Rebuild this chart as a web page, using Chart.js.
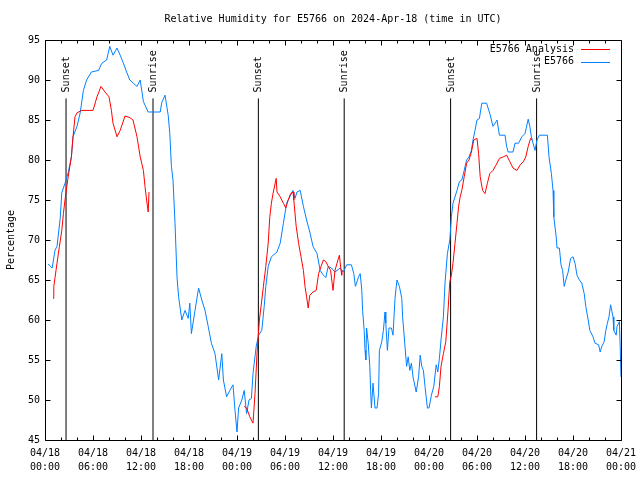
<!DOCTYPE html>
<html>
<head>
<meta charset="utf-8">
<title>Relative Humidity E5766</title>
<script src="https://cdn.jsdelivr.net/npm/chart.js@4/dist/chart.umd.min.js"></script>
<style>
  body { margin: 0; background: #fff; }
  canvas { display: block; }
</style>
</head>
<body>
<canvas id="rh" width="640" height="480"></canvas>
<script>

var TITLE = 'Relative Humidity for E5766 on 2024-Apr-18 (time in UTC)';
var FONT = "'DejaVu Sans Mono', 'Liberation Mono', monospace";

// hours since 04/18 00:00 UTC
var tickDays  = ['04/18','04/18','04/18','04/18','04/19','04/19','04/19','04/19','04/20','04/20','04/20','04/20','04/21'];
var tickTimes = ['00:00','06:00','12:00','18:00','00:00','06:00','12:00','18:00','00:00','06:00','12:00','18:00','00:00'];

var eventHours = [2.63, 13.5, 26.67, 37.4, 50.7, 61.45];
var eventNames = ['Sunset','Sunrise','Sunset','Sunrise','Sunset','Sunrise'];

// E5766 observations
var obsHours = [
  0.4, 0.9, 1.25, 1.5, 1.9, 2.1, 2.5, 2.9, 3.3, 3.5, 4.0, 4.4, 4.8, 5.2, 5.8, 6.7, 7.1, 7.7, 8.1, 8.5,
  9.0, 9.4, 9.8, 10.2, 10.6, 11.5, 11.9, 12.3, 12.9, 14.4, 14.6, 15.0, 15.4, 15.6, 15.8, 16.0, 16.25, 16.5, 16.7, 17.1,
  17.5, 17.9, 18.1, 18.3, 18.75, 19.2, 19.6, 20.0, 20.4, 20.8, 21.25, 21.7, 22.1, 22.3, 22.7, 23.1, 23.5, 23.75, 24.0, 24.2,
  24.6, 24.9, 25.2, 25.5, 25.8, 26.0, 26.4, 26.7, 27.1, 27.4, 27.6, 27.9, 28.3, 29.0, 29.4, 29.8, 30.2, 30.6, 31.0, 31.25,
  31.5, 31.9, 32.3, 32.7, 33.1, 33.5, 34.0, 34.4, 34.8, 35.1, 35.4, 35.8, 36.25, 36.9, 37.3, 37.7, 38.3, 38.6, 38.8, 39.2,
  39.4, 39.6, 39.7, 39.9, 40.0, 40.1, 40.2, 40.4, 40.6, 40.7, 40.8, 41.0, 41.25, 41.5, 41.7, 41.8, 42.1, 42.3, 42.5, 42.6,
  42.8, 43.0, 43.3, 43.5, 43.75, 44.0, 44.3, 44.6, 44.7, 45.0, 45.2, 45.4, 45.6, 45.8, 46.0, 46.4, 46.7, 46.9, 47.1, 47.3,
  47.5, 47.8, 48.0, 48.3, 48.6, 48.9, 49.1, 49.3, 49.5, 49.8, 50.0, 50.3, 50.6, 50.8, 51.0, 51.5, 51.8, 52.1, 52.4, 52.7,
  53.0, 53.3, 53.5, 53.75, 54.0, 54.3, 54.6, 55.2, 55.6, 56.0, 56.4, 56.5, 56.8, 57.5, 57.7, 57.9, 58.5, 58.75, 59.2, 59.6,
  60.0, 60.4, 60.6, 60.8, 61.0, 61.25, 61.5, 61.8, 62.8, 63.0, 63.3, 63.5, 63.6, 63.9, 64.0, 64.3, 64.5, 64.7, 64.9, 65.1,
  65.4, 65.7, 66.0, 66.25, 66.5, 66.8, 67.1, 67.4, 67.6, 67.9, 68.1, 68.5, 68.75, 69.2, 69.4, 69.6, 69.9, 70.1, 70.3, 70.5,
  70.7, 71.0, 71.1, 71.4, 71.5, 71.8, 71.9, 72.0
];
var obsValues = [
  67.0, 66.5, 68.7, 69.2, 72.7, 75.9, 77.1, 78.4, 80.4, 82.9, 84.2, 85.9, 88.7, 90.0, 91.0, 91.2, 92.1, 92.5, 94.2, 93.1,
  94.0, 93.1, 92.1, 91.0, 90.0, 89.2, 90.0, 87.3, 86.0, 86.0, 87.2, 88.1, 85.6, 83.3, 79.2, 77.5, 72.1, 65.4, 62.9, 60.0,
  61.2, 60.2, 62.1, 58.3, 61.2, 64.0, 62.5, 61.2, 59.2, 57.1, 55.8, 52.5, 55.8, 52.5, 50.4, 51.2, 51.9, 48.7, 46.0, 49.0,
  50.0, 51.2, 48.3, 50.0, 50.2, 53.3, 56.7, 58.1, 58.7, 61.7, 64.2, 66.7, 67.9, 68.5, 69.6, 72.1, 74.6, 75.4, 76.2, 75.2,
  76.0, 76.2, 74.2, 72.5, 71.0, 69.2, 68.3, 66.2, 65.6, 65.3, 66.7, 66.5, 66.0, 66.5, 66.0, 66.9, 66.9, 65.8, 64.2, 65.4,
  65.8, 63.7, 61.2, 58.7, 56.2, 55.0, 59.0, 57.1, 54.2, 51.2, 49.0, 52.1, 49.0, 49.0, 50.8, 56.2, 57.3, 58.7, 61.0, 59.6,
  56.2, 59.0, 59.0, 58.1, 62.7, 65.0, 64.2, 62.7, 60.4, 56.7, 54.2, 55.4, 53.7, 54.6, 52.9, 51.0, 52.9, 55.6, 54.2, 53.7,
  51.7, 49.0, 49.0, 50.6, 51.7, 54.4, 53.5, 55.2, 57.5, 60.4, 64.6, 68.3, 70.0, 72.9, 74.6, 76.2, 77.3, 77.5, 78.7, 80.0,
  80.4, 81.2, 82.5, 83.7, 85.0, 85.2, 87.1, 87.1, 85.8, 84.2, 84.8, 85.0, 83.1, 83.1, 81.7, 81.0, 81.0, 82.1, 82.1, 82.9,
  83.3, 85.1, 84.2, 82.9, 82.1, 81.2, 82.5, 83.1, 83.1, 80.4, 78.3, 76.2, 72.9, 70.4, 69.0, 69.0, 66.9, 66.2, 64.2, 65.0,
  66.0, 67.7, 67.9, 67.1, 65.6, 65.0, 64.6, 63.3, 61.7, 60.0, 58.7, 57.9, 57.1, 56.9, 56.0, 56.7, 57.3, 58.7, 59.6, 60.4,
  61.9, 60.4, 58.7, 58.1, 59.2, 59.8, 56.7, 52.9
];

// E5766 Analysis, null marks a gap in the series
var anaHours = [
  1.0, 1.1, 1.5, 1.8, 2.1, 2.3, 2.5, 2.7, 2.9, 3.3, 3.5, 3.75, 4.0, 4.6, 6.0, 6.5, 7.0, 7.5, 8.0, 8.3,
  8.5, 9.0, 9.4, 10.0, 10.6, 11.0, 11.5, 11.9, 12.3, 12.5, 12.7, 12.9, 13.0,
  18.0,
  24.9, 25.2, 25.6, 26.0, 26.25, 26.5, 26.8, 27.1, 27.3, 27.6, 27.9, 28.1, 28.3, 28.5, 28.9, 29.0, 29.4, 29.8,
  30.1, 30.4, 30.7, 31.0, 31.1, 31.4, 31.7, 32.0, 32.3, 32.5, 32.7, 32.9, 33.1, 33.5, 33.9, 34.2, 34.5, 34.8,
  35.1, 35.4, 35.7, 36.0, 36.25, 36.5, 36.8, 37.0, 37.1,
  42.0,
  48.75, 49.1, 49.3, 49.5, 49.8, 50.1, 50.4, 50.6, 50.8, 51.0, 51.25, 51.5, 51.7, 51.9, 52.1, 52.4, 52.7, 53.0,
  53.3, 53.6, 54.0, 54.2, 54.4, 54.7, 55.0, 55.3, 55.6, 56.0, 56.4, 56.8, 57.3, 57.7, 58.1, 58.5, 59.0, 59.4,
  59.8, 60.1, 60.4, 60.7, 60.9
];
var anaValues = [
  62.7, 64.2, 67.1, 69.2, 71.2, 73.3, 75.0, 76.5, 77.9, 80.4, 82.9, 85.4, 85.9, 86.2, 86.2, 87.9, 89.2, 88.5, 87.9, 86.2,
  84.6, 82.9, 83.7, 85.5, 85.3, 85.0, 82.9, 80.4, 78.7, 76.7, 75.0, 73.5, 76.0,
  null,
  49.2, 49.0, 47.9, 47.1, 50.8, 55.8, 60.0, 62.5, 64.2, 66.7, 69.6, 72.9, 74.6, 75.8, 77.7, 76.0, 75.4, 74.6,
  74.0, 75.0, 75.8, 76.0, 75.0, 71.7, 69.6, 67.9, 66.2, 64.2, 62.9, 61.5, 63.1, 63.5, 63.7, 65.8, 66.7, 67.5,
  67.3, 66.7, 66.2, 63.7, 66.2, 67.1, 68.1, 66.2, 65.6,
  null,
  50.4, 50.4, 51.7, 54.2, 55.8, 57.3, 61.5, 64.8, 65.6, 67.1, 69.6, 72.1, 74.2, 75.4, 76.2, 77.9, 79.6, 80.0,
  81.0, 82.5, 82.7, 80.8, 77.9, 76.2, 75.8, 77.1, 78.3, 78.7, 79.4, 80.2, 80.4, 80.6, 79.8, 79.0, 78.7, 79.4,
  79.8, 80.4, 81.7, 82.7, 82.5
];

var EVENT_TOP = 87.7; // where the sunrise/sunset markers stop

function pairs(xs, ys) {
  return xs.map(function(x, i) { return {x: x, y: ys[i]}; });
}

var datasets = [
  { label: 'E5766 Analysis', data: pairs(anaHours, anaValues), borderColor: '#ff0000' },
  { label: 'E5766', data: pairs(obsHours, obsValues), borderColor: '#0080ff' }
];
eventHours.forEach(function(h, i) {
  datasets.push({ label: eventNames[i], isEvent: true, data: [{x: h, y: 45}, {x: h, y: EVENT_TOP}], borderColor: '#000' });
});
datasets.forEach(function(d) {
  d.borderWidth = 1;
  d.pointRadius = 0;
  d.tension = 0;
  d.spanGaps = false;
  d.fill = false;
});

function crisp(v) { return Math.round(v) + 0.5; }

// gnuplot-ish frame: border, inward tics, event labels and key
var decorations = {
  id: 'decorations',
  afterDatasetsDraw: function(chart) {
    var ctx = chart.ctx, a = chart.chartArea;
    var xs = chart.scales.x, ys = chart.scales.y;
    var l = crisp(a.left), r = crisp(a.right), t = crisp(a.top), b = crisp(a.bottom);
    ctx.save();
    ctx.strokeStyle = '#000';
    ctx.lineWidth = 1;
    ctx.beginPath();
    ctx.rect(l, t, r - l, b - t);
    for (var h = 0; h <= 72; h += 2) {
      var len = (h % 6 === 0) ? 5 : 3;
      var px = crisp(xs.getPixelForValue(h));
      ctx.moveTo(px, b); ctx.lineTo(px, b - len);
      ctx.moveTo(px, t); ctx.lineTo(px, t + len);
    }
    for (var v = 45; v <= 95; v += 5) {
      var py = crisp(ys.getPixelForValue(v));
      ctx.moveTo(l, py); ctx.lineTo(l + 5, py);
      ctx.moveTo(r, py); ctx.lineTo(r - 5, py);
    }
    ctx.stroke();

    ctx.fillStyle = '#000';
    ctx.font = '10px ' + FONT;
    ctx.textBaseline = 'middle';
    chart.data.datasets.forEach(function(ds, i) {
      if (!ds.isEvent) return;
      var top = chart.getDatasetMeta(i).data[1];
      ctx.save();
      ctx.translate(top.x + 0.5, top.y - 6);
      ctx.rotate(-Math.PI / 2);
      ctx.textAlign = 'left';
      ctx.fillText(ds.label, 0, 0);
      ctx.restore();
    });

    // key, top right
    ctx.textAlign = 'right';
    var ky = a.top + 9;
    chart.data.datasets.forEach(function(ds) {
      if (ds.isEvent) return;
      ctx.fillText(ds.label, a.right - 47, ky);
      ctx.strokeStyle = ds.borderColor;
      ctx.beginPath();
      ctx.moveTo(a.right - 40, crisp(ky));
      ctx.lineTo(a.right - 11, crisp(ky));
      ctx.stroke();
      ky += 12.5;
    });
    ctx.restore();
  }
};

Chart.defaults.font.family = FONT;
Chart.defaults.font.size = 10;
Chart.defaults.color = '#000';

var chart = new Chart(document.getElementById('rh'), {
  type: 'line',
  data: { datasets: datasets },
  plugins: [decorations],
  options: {
    responsive: false,
    animation: false,
    devicePixelRatio: 1,
    layout: { padding: { left: 5, right: 19, top: 0, bottom: 6 } },
    plugins: {
      legend: { display: false },
      tooltip: { enabled: false },
      title: {
        display: true,
        text: TITLE,
        fullSize: false,
        color: '#000',
        font: { family: FONT, size: 10, weight: 'normal' },
        padding: { top: 13, bottom: 15 }
      }
    },
    scales: {
      x: {
        type: 'linear',
        min: 0,
        max: 72,
        grid: { display: false, drawTicks: false },
        border: { display: false },
        afterFit: function(scale) {
          // keep the plot box where gnuplot puts it
          scale.height = 34;
          scale.paddingLeft = 0;
          scale.paddingRight = 0;
        },
        ticks: {
          stepSize: 6,
          autoSkip: false,
          maxRotation: 0,
          padding: 7,
          font: { family: FONT, size: 10, lineHeight: 1.35 },
          callback: function(value) {
            var i = Math.round(value / 6);
            return [tickDays[i], tickTimes[i]];
          }
        }
      },
      y: {
        min: 45,
        max: 95,
        grid: { display: false, drawTicks: false },
        border: { display: false },
        afterFit: function(scale) {
          scale.width = 40;
        },
        ticks: { stepSize: 5, padding: 5 },
        title: {
          display: true,
          text: 'Percentage',
          font: { family: FONT, size: 10 },
          padding: { top: 0, bottom: 6 }
        }
      }
    }
  }
});
</script>
</body>
</html>
